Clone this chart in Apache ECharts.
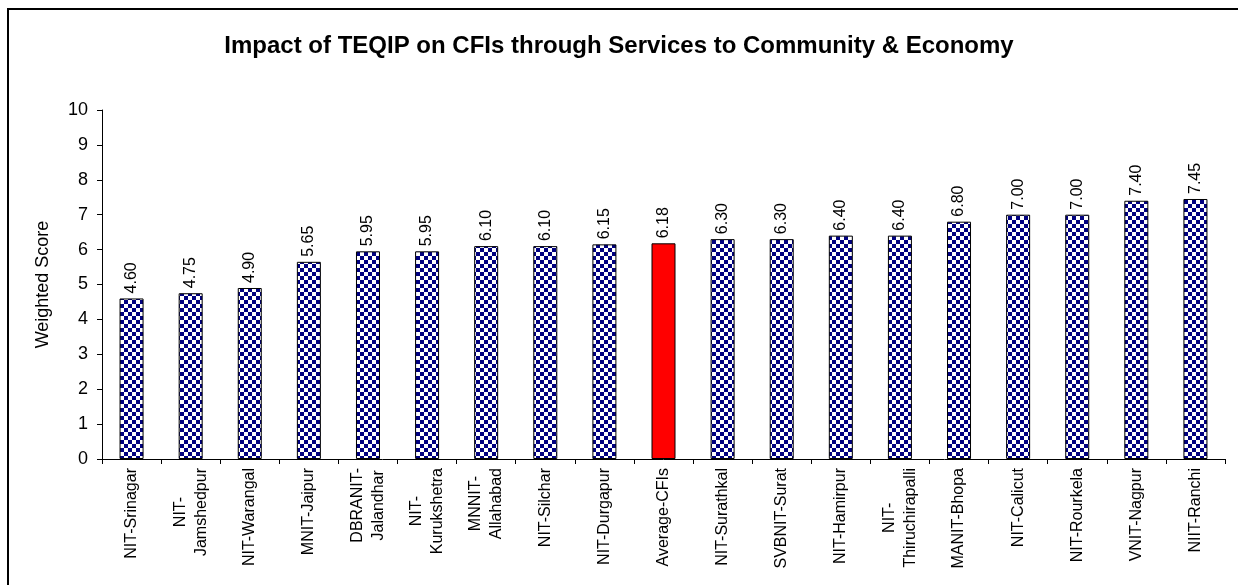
<!DOCTYPE html>
<html>
<head>
<meta charset="utf-8">
<script src="https://cdn.jsdelivr.net/npm/echarts@6/dist/echarts.min.js"></script>
<style>
html,body{margin:0;padding:0;background:#fff;}
#chart{width:1238px;height:585px;}
</style>
</head>
<body>
<div id="chart"></div>
<script>
const titleText = 'Impact of TEQIP on CFIs through Services to Community & Economy';
const yAxisName = 'Weighted Score';
const categories = ['NIT-Srinagar','NIT-\nJamshedpur','NIT-Warangal','MNIT-Jaipur','DBRANIT-\nJalandhar','NIT-\nKurukshetra','MNNIT-\nAllahabad','NIT-Silchar','NIT-Durgapur','Average-CFIs','NIT-Surathkal','SVBNIT-Surat','NIT-Hamirpur','NIT-\nThiruchirapalli','MANIT-Bhopa','NIT-Calicut','NIT-Rourkela','VNIT-Nagpur','NIIT-Ranchi'];
const values = [4.60,4.75,4.90,5.65,5.95,5.95,6.10,6.10,6.15,6.18,6.30,6.30,6.40,6.40,6.80,7.00,7.00,7.40,7.45];
const highlightCategory = 'Average-CFIs';
const yTicks = [0,1,2,3,4,5,6,7,8,9,10];

// checkerboard pattern
const pc = document.createElement('canvas');
pc.width = 8; pc.height = 8;
const pctx = pc.getContext('2d');
pctx.fillStyle = '#ffffff'; pctx.fillRect(0,0,8,8);
pctx.fillStyle = '#000080';
pctx.fillRect(0,0,4,4); pctx.fillRect(4,4,4,4);
const checker = {image: pc, repeat: 'repeat'};

const seriesData = values.map((v,i) => ({
  value: v,
  itemStyle: categories[i] === highlightCategory ? {color: '#ff0000'} : {color: checker}
}));

const font = '"Liberation Sans", Arial, sans-serif';
const chart = echarts.init(document.getElementById('chart'), null, {renderer: 'canvas'});
chart.setOption({
  animation: false,
  backgroundColor: '#ffffff',
  title: {
    text: titleText, left: 'center', top: 29,
    textStyle: {fontFamily: font, fontSize: 24, fontWeight: 'bold', color: '#000'}
  },
  graphic: [{
    type: 'rect', silent: true, z: 100,
    shape: {x: 8, y: 9, width: 1400, height: 800},
    style: {fill: 'none', stroke: '#000', lineWidth: 2}
  }],
  grid: {left: 102, right: 13, top: 110, bottom: 126, containLabel: false},
  xAxis: {
    type: 'category', data: categories,
    axisLine: {lineStyle: {color: '#000', width: 1}},
    axisTick: {show: true, length: 5, lineStyle: {color: '#000'}},
    axisLabel: {
      rotate: 90, interval: 0, margin: 9, color: '#000',
      fontFamily: font, fontSize: 16,
      formatter: v => v.split('\n').map(l => '{c|' + l + '}').join('\n'),
      rich: {c: {align: 'center', fontFamily: font, fontSize: 16, lineHeight: 21, color: '#000'}}
    }
  },
  yAxis: {
    type: 'value', min: yTicks[0], max: yTicks[yTicks.length-1], interval: 1,
    name: yAxisName, nameLocation: 'middle', nameRotate: 90, nameGap: 50,
    nameTextStyle: {fontFamily: font, fontSize: 18, color: '#000'},
    axisLine: {show: true, lineStyle: {color: '#000', width: 1}},
    axisTick: {show: true, length: 5, lineStyle: {color: '#000'}},
    splitLine: {show: false},
    axisLabel: {margin: 14, color: '#000', fontFamily: font, fontSize: 18}
  },
  series: [{
    type: 'bar', data: seriesData, barWidth: 24,
    itemStyle: {borderColor: '#000', borderWidth: 1},
    label: {
      show: true, position: 'top', rotate: 90, align: 'left', verticalAlign: 'middle',
      distance: 5, color: '#000', fontFamily: font, fontSize: 16,
      formatter: p => p.value.toFixed(2)
    }
  }]
});
</script>
</body>
</html>
